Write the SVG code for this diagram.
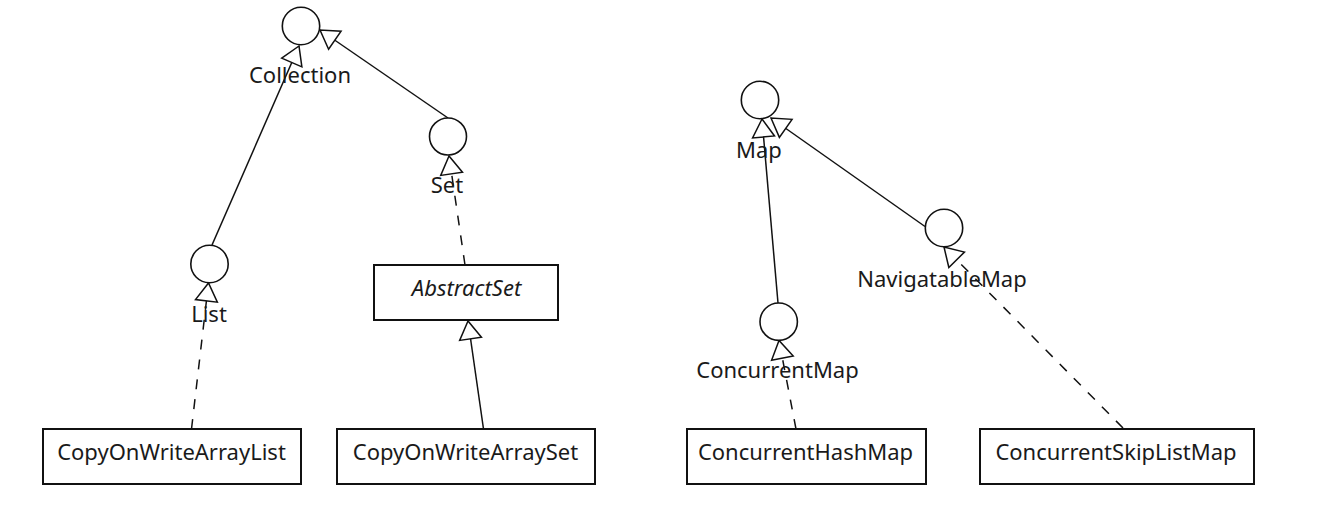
<svg xmlns="http://www.w3.org/2000/svg" width="1330" height="511" viewBox="0 0 1330 511">
<style>
  .bg { fill: #ffffff; }
  .iface { fill: #ffffff; stroke: #111; stroke-width: 1.6; }
  .cls { fill: #ffffff; stroke: #111; stroke-width: 2; }
  .lbl { font-family: "Noto Sans", "Liberation Sans", sans-serif; font-size: 22px; fill: #1a1a1a; text-anchor: middle; }
  .it { font-style: italic; }
  .conn { stroke: #111; stroke-width: 1.5; fill: none; marker-end: url(#tri); }
  .dash { stroke-dasharray: 10 10; }
</style>
<defs>
  <marker id="tri" viewBox="-20 -13 22 26" markerWidth="22" markerHeight="26" refX="0" refY="0" orient="auto" markerUnits="userSpaceOnUse">
    <path d="M0,0 L-18,-11 L-18,11 Z" fill="#ffffff" stroke="#111" stroke-width="1.5" stroke-dasharray="none"/>
  </marker>
</defs>
<rect class="bg" x="0" y="0" width="1330" height="511"/>

<g id="connectors">
  <line class="conn" x1="212" y1="245" x2="299" y2="46"/>
  <line class="conn" x1="448" y1="118" x2="320" y2="30"/>
  <line class="conn dash" x1="465" y1="265" x2="449" y2="156"/>
  <line class="conn dash" x1="191.5" y1="429" x2="208.5" y2="283"/>
  <line class="conn" x1="483.5" y1="429" x2="468" y2="321"/>
  <line class="conn" x1="778" y1="303" x2="762" y2="119"/>
  <line class="conn" x1="925" y1="226.5" x2="771" y2="118"/>
  <line class="conn dash" x1="796" y1="429" x2="779" y2="340.5"/>
  <line class="conn dash" x1="1123" y1="428" x2="944" y2="247"/>
</g>

<g id="collection">
  <circle class="iface" cx="301" cy="26" r="18.7"/>
  <text class="lbl" x="300" y="83">Collection</text>
</g>
<g id="set">
  <circle class="iface" cx="448" cy="136.5" r="18.5"/>
  <text class="lbl" x="447" y="193">Set</text>
</g>
<g id="list">
  <circle class="iface" cx="209.5" cy="264" r="18.7"/>
  <text class="lbl" x="209" y="322">List</text>
</g>
<g id="abstractset">
  <rect class="cls" x="374" y="265" width="184" height="55"/>
  <text class="lbl it" x="466.5" y="296">AbstractSet</text>
</g>
<g id="copyonwritearraylist">
  <rect class="cls" x="43" y="429" width="258" height="55"/>
  <text class="lbl" x="171.5" y="460">CopyOnWriteArrayList</text>
</g>
<g id="copyonwritearrayset">
  <rect class="cls" x="337" y="429" width="258" height="55"/>
  <text class="lbl" x="465.5" y="460">CopyOnWriteArraySet</text>
</g>
<g id="map">
  <circle class="iface" cx="760" cy="100" r="18.7"/>
  <text class="lbl" x="759" y="158">Map</text>
</g>
<g id="navigatablemap">
  <circle class="iface" cx="944" cy="228" r="18.7"/>
  <text class="lbl" x="942" y="287">NavigatableMap</text>
</g>
<g id="concurrentmap">
  <circle class="iface" cx="778.7" cy="321.7" r="18.7"/>
  <text class="lbl" x="777.5" y="378">ConcurrentMap</text>
</g>
<g id="concurrenthashmap">
  <rect class="cls" x="687" y="429" width="239" height="55"/>
  <text class="lbl" x="805.5" y="460">ConcurrentHashMap</text>
</g>
<g id="concurrentskiplistmap">
  <rect class="cls" x="980" y="429" width="274" height="55"/>
  <text class="lbl" x="1116" y="460">ConcurrentSkipListMap</text>
</g>
</svg>
